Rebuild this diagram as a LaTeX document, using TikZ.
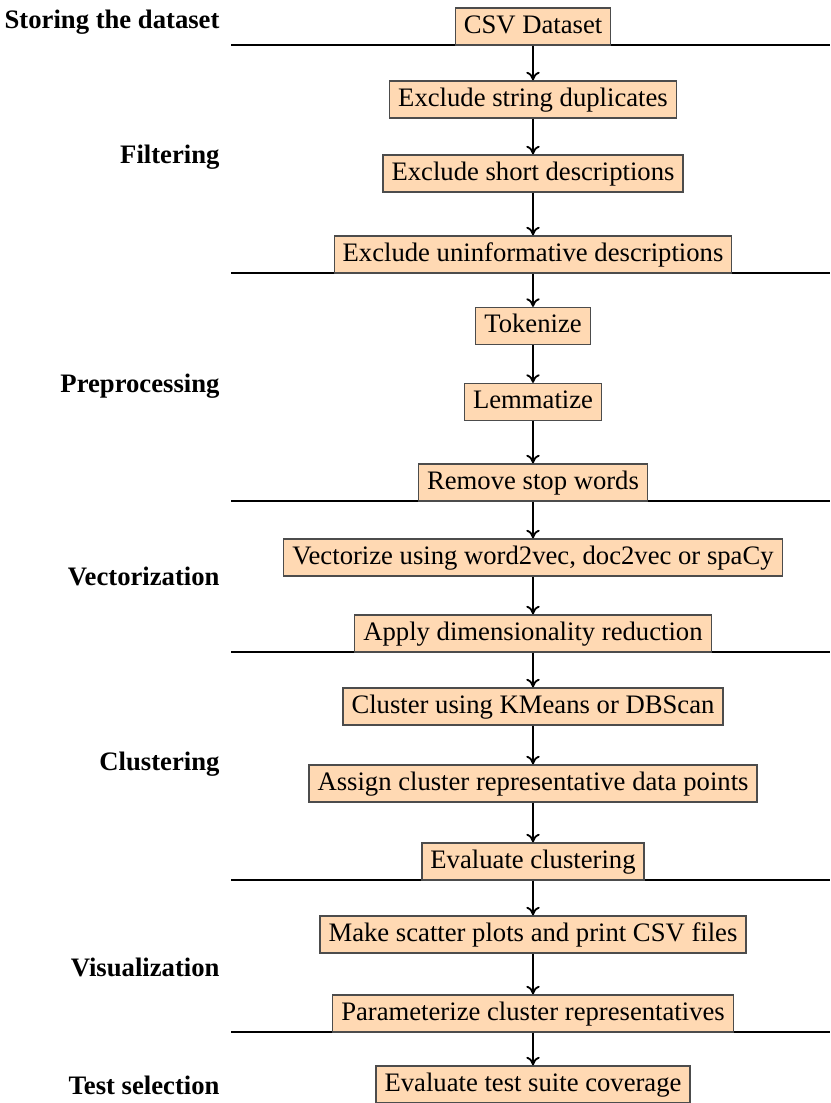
\documentclass[tikz,border=0pt]{standalone}
\usepackage{fontspec}
\setmainfont{Liberation Serif}
\usetikzlibrary{arrows.meta}
\definecolor{boxfill}{RGB}{255,217,179}
\begin{document}
\begin{tikzpicture}[x=0.375pt,y=-0.375pt,
  stepbox/.style={draw=black!70,fill=boxfill,line width=0.45pt,font=\fontsize{10}{12}\selectfont,
    minimum height=13.9pt,inner xsep=3.2pt,inner ysep=0pt,text height=7pt,text depth=2pt},
  phase/.style={anchor=east,font=\fontsize{10}{12}\selectfont\bfseries,inner sep=0pt},
  sep/.style={line width=0.8pt},
  flow/.style={-{To[length=3.2pt,width=5pt]},line width=0.7pt}]
\useasboundingbox (0,0) rectangle (830,1103);
% separators
\coordinate (l1a) at (231,45);   \coordinate (l1b) at (830,45);
\coordinate (l2a) at (231,273);  \coordinate (l2b) at (830,273);
\coordinate (l3a) at (231,501);  \coordinate (l3b) at (830,501);
\coordinate (l4a) at (231,652);  \coordinate (l4b) at (830,652);
\coordinate (l5a) at (231,880);  \coordinate (l5b) at (830,880);
\coordinate (l6a) at (231,1032); \coordinate (l6b) at (830,1032);
\foreach \i in {1,...,6} \draw[sep] (l\i a) -- (l\i b);
% boxes
\node[stepbox] (b1) at (533,26.5) {CSV Dataset};
\node[stepbox] (b2) at (533,99.5) {Exclude string duplicates};
\node[stepbox] (b3) at (533,173.5) {Exclude short descriptions};
\node[stepbox] (b4) at (533,254.5) {Exclude uninformative descriptions};
\node[stepbox] (b5) at (533,326) {Tokenize};
\node[stepbox] (b6) at (533,402) {Lemmatize};
\node[stepbox] (b7) at (533,482.5) {Remove stop words};
\node[stepbox] (b8) at (533,557.5) {Vectorize using word2vec, doc2vec or spaCy};
\node[stepbox] (b9) at (533,633.5) {Apply dimensionality reduction};
\node[stepbox] (b10) at (533,706.5) {Cluster using KMeans or DBScan};
\node[stepbox] (b11) at (533,783.5) {Assign cluster representative data points};
\node[stepbox] (b12) at (533,861.5) {Evaluate clustering};
\node[stepbox] (b13) at (533,934.5) {Make scatter plots and print CSV files};
\node[stepbox] (b14) at (533,1013.5) {Parameterize cluster representatives};
\node[stepbox] (b15) at (533,1084.5) {Evaluate test suite coverage};
\foreach \a/\b in {b1/b2,b2/b3,b3/b4,b4/b5,b5/b6,b6/b7,b7/b8,b8/b9,b9/b10,b10/b11,b11/b12,b12/b13,b13/b14,b14/b15}
  \draw[flow] (\a) -- (\b);
% phase labels
\node[phase] (p1) at (220,22) {Storing the dataset};
\node[phase] (p2) at (220,157) {Filtering};
\node[phase] (p3) at (220,386) {Preprocessing};
\node[phase] (p4) at (220,576) {Vectorization};
\node[phase] (p5) at (220,764) {Clustering};
\node[phase] (p6) at (220,967) {Visualization};
\node[phase] (p7) at (220,1085) {Test selection};
\end{tikzpicture}
\end{document}
